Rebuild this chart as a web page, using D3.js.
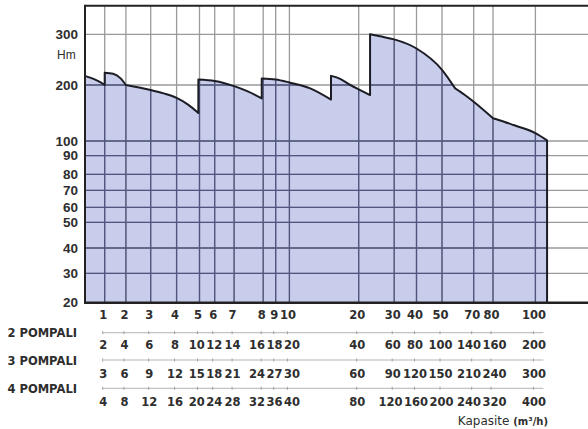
<!DOCTYPE html>
<html>
<head>
<meta charset="utf-8">
<script src="https://cdn.jsdelivr.net/npm/d3@7"></script>
<style>
  html, body { margin: 0; padding: 0; background: #fff; }
  svg { display: block; }
</style>
</head>
<body>
<svg id="chart" width="588" height="429"></svg>
<script>
// Capacity columns for a single pump (m³/h)
const capacityTicks = [1, 2, 3, 4, 5, 6, 7, 8, 9, 10, 20, 30, 40, 50, 70, 80, 100];
// Same columns read for parallel pump sets
const twoPumpLabels   = [2, 4, 6, 8, 10, 12, 14, 16, 18, 20, 40, 60, 80, 100, 140, 160, 200];
const threePumpLabels = [3, 6, 9, 12, 15, 18, 21, 24, 27, 30, 60, 90, 120, 150, 210, 240, 300];
const fourPumpLabels  = [4, 8, 12, 16, 20, 24, 28, 32, 36, 40, 80, 120, 160, 200, 240, 320, 400];
const rowNames = ["2 POMPALI", "3 POMPALI", "4 POMPALI"];

// Head axis (m)
const headTicks = [20, 30, 40, 50, 60, 70, 80, 90, 100, 200, 300];

// Envelope of the pump range: each piece is one pump model, [capacity, head]
const curveSegments = [
  [[0, 218], [0.3, 214], [0.65, 208], [1, 200]],
  [[1, 224], [1.4, 222], [1.75, 213], [2, 200]],
  [[2, 200], [3, 191], [3.5, 185], [4, 177], [4.5, 165], [4.95, 150]],
  [[4.95, 211], [6, 208], [7, 198], [7.45, 189], [7.95, 176]],
  [[7.95, 213], [9, 211], [10, 205], [13, 194], [16, 174]],
  [[16, 218], [17, 214], [18.8, 200], [20.4, 191], [23.2, 182]],
  [[23.2, 300], [26, 296], [30, 290], [40, 272], [50, 230], [58.3, 194]],
  [[58.3, 194], [64, 183], [70, 170], [80, 140.5]],
  [[80, 140.5], [85.2, 134.5], [89.7, 128.5], [100, 114], [105.5, 101]]
];

// ---- layout ----
const W = 588, H = 429;
const plotLeft = 85, plotTop = 5.7, plotBottom = 302.7, plotRight = W;
// column spacing of the capacity grid (px from the left frame)
const xStops = [0, 19.7, 40.9, 65.7, 91.6, 114.5, 129.7, 149.1, 178.2, 190.7, 204.4,
                273.7, 309.2, 331.5, 357, 388.7, 408, 450.4];
// row spacing of the head grid (px above the bottom frame)
const yStops = [0, 29.4, 54.7, 80.4, 95.4, 112.4, 128.4, 147, 161.7, 217.7, 268.4];

const x = d3.scaleLinear()
  .domain([0, ...capacityTicks])
  .range(xStops.map(s => plotLeft + s));
const y = d3.scaleLinear()
  .domain(headTicks)
  .range(yStops.map(s => plotBottom - s));

const svg = d3.select("#chart");

const labelFont = "'Liberation Sans', Arial, sans-serif";
const rowFont = "'DejaVu Sans', Verdana, sans-serif";
const textColor = "#2e2e2e";

// ---- envelope path ----
const seg = d3.line().x(d => x(d[0])).y(d => y(d[1])).curve(d3.curveMonotoneX);
let outline = "";
curveSegments.forEach((s, i) => {
  let p = seg(s);
  if (i > 0) p = "L" + p.slice(1);
  outline += p;
});
const first = curveSegments[0][0];
const last = curveSegments[curveSegments.length - 1];
const lastPt = last[last.length - 1];
const areaPath = outline +
  `L${x(lastPt[0])},${plotBottom}L${x(first[0])},${plotBottom}Z`;

svg.append("defs").append("clipPath").attr("id", "fillClip")
  .append("path").attr("d", areaPath);

svg.append("path").attr("d", areaPath).attr("fill", "#c8cdeb");

// ---- grid ----
function drawGrid(g, color) {
  g.selectAll("line.v").data(capacityTicks).join("line")
    .attr("class", "v")
    .attr("x1", d => x(d)).attr("x2", d => x(d))
    .attr("y1", plotTop).attr("y2", plotBottom)
    .attr("stroke", color).attr("stroke-width", 1.3);
  g.selectAll("line.h").data(headTicks.slice(1)).join("line")
    .attr("class", "h")
    .attr("x1", plotLeft).attr("x2", plotRight)
    .attr("y1", d => y(d)).attr("y2", d => y(d))
    .attr("stroke", color).attr("stroke-width", 1.3);
}
drawGrid(svg.append("g"), "#9a9a9a");
drawGrid(svg.append("g").attr("clip-path", "url(#fillClip)"), "#4f5480");

// envelope outline (top edge and right edge)
svg.append("path")
  .attr("d", outline + `L${x(lastPt[0])},${plotBottom}`)
  .attr("fill", "none").attr("stroke", "#1c1c24")
  .attr("stroke-width", 2).attr("stroke-linejoin", "round");

// frame
svg.append("line").attr("x1", plotLeft).attr("x2", plotRight)
  .attr("y1", plotTop).attr("y2", plotTop)
  .attr("stroke", "#222").attr("stroke-width", 2);
svg.append("line").attr("x1", plotLeft).attr("x2", plotLeft)
  .attr("y1", plotTop - 1).attr("y2", plotBottom + 1)
  .attr("stroke", "#222").attr("stroke-width", 2);
svg.append("line").attr("x1", plotLeft - 1).attr("x2", plotRight)
  .attr("y1", plotBottom).attr("y2", plotBottom)
  .attr("stroke", "#222").attr("stroke-width", 2.5);

// ---- head axis labels ----
svg.append("g").selectAll("text").data(headTicks).join("text")
  .attr("x", 78).attr("y", d => y(d) + 4.6)
  .attr("text-anchor", "end")
  .attr("font-family", labelFont).attr("font-weight", "bold")
  .attr("font-size", 13.5).attr("fill", textColor)
  .text(d => d);
svg.append("text").attr("x", 57).attr("y", 58.6)
  .attr("font-family", labelFont).attr("font-size", 12).attr("fill", textColor)
  .text("Hm");

// ---- capacity rows ----
// labels sit under their column; where neighbours would collide they are nudged apart
function spreadLabels(sel, gap) {
  const items = sel.nodes().map(n => ({
    node: n, x: +n.getAttribute("x"), w: n.getComputedTextLength()
  }));
  for (let it = 0; it < 80; it++) {
    for (let i = 1; i < items.length; i++) {
      const need = items[i - 1].w / 2 + items[i].w / 2 + gap;
      const d = items[i].x - items[i - 1].x;
      if (d < need) {
        const push = (need - d) / 2;
        items[i - 1].x -= push;
        items[i].x += push;
      }
    }
  }
  items.forEach(o => o.node.setAttribute("x", o.x));
}

const rows = [
  { labels: capacityTicks, base: 318.6 },
  { labels: twoPumpLabels, base: 349 },
  { labels: threePumpLabels, base: 377.7 },
  { labels: fourPumpLabels, base: 406 }
];
rows.forEach(r => {
  const t = svg.append("g").selectAll("text").data(r.labels).join("text")
    .attr("x", (d, i) => x(capacityTicks[i]) - 1.5)
    .attr("y", r.base)
    .attr("text-anchor", "middle")
    .attr("font-family", rowFont).attr("font-weight", "bold")
    .attr("font-size", 11.5).attr("fill", textColor)
    .text(d => d);
  spreadLabels(t, 1.5);
});

// separators with small column ticks, and row names
const sepY = [332.7, 360, 388.3];
const nameBase = [337.3, 365, 393.3];
sepY.forEach((sy, k) => {
  const g = svg.append("g");
  g.append("line")
    .attr("x1", x(capacityTicks[0]) - 2).attr("x2", x(100) + 8)
    .attr("y1", sy).attr("y2", sy)
    .attr("stroke", "#b4b4b4").attr("stroke-width", 1);
  g.selectAll("line.t").data(capacityTicks).join("line")
    .attr("class", "t")
    .attr("x1", d => x(d) - 2).attr("x2", d => x(d) - 2)
    .attr("y1", sy - 1.5).attr("y2", sy + 1.5)
    .attr("stroke", "#a0a0a0").attr("stroke-width", 1);
  svg.append("text").attr("x", 77).attr("y", nameBase[k])
    .attr("text-anchor", "end")
    .attr("font-family", rowFont).attr("font-weight", "bold")
    .attr("font-size", 11.5).attr("fill", textColor)
    .text(rowNames[k]);
});

// capacity unit
const unit = svg.append("text").attr("x", 548).attr("y", 425)
  .attr("text-anchor", "end").attr("fill", textColor);
unit.append("tspan").attr("font-family", rowFont).attr("font-size", 12)
  .text("Kapasite ");
unit.append("tspan").attr("font-family", rowFont).attr("font-weight", "bold")
  .attr("font-size", 10).text("(m³/h)");
</script>
</body>
</html>
